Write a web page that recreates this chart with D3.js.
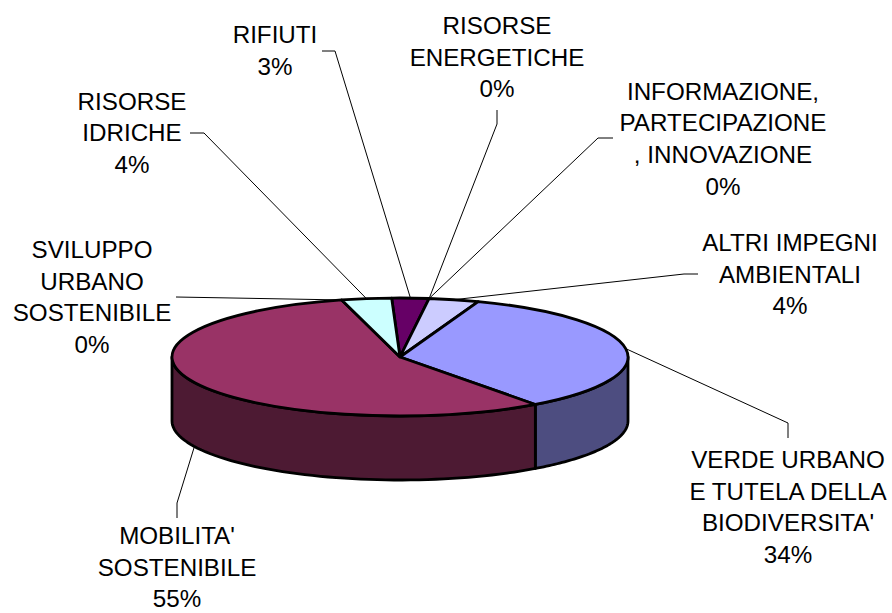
<!DOCTYPE html>
<html>
<head>
<meta charset="utf-8">
<script src="https://cdn.jsdelivr.net/npm/d3@7"></script>
<style>
body{margin:0;background:#fff}
text{font-family:"Liberation Sans",Arial,sans-serif;font-size:24.2px;fill:#000}
</style>
</head>
<body>
<svg id="chart" width="892" height="613"></svg>
<script>
const categories = ["RIFIUTI", "RISORSE ENERGETICHE", "INFORMAZIONE, PARTECIPAZIONE , INNOVAZIONE", "ALTRI IMPEGNI AMBIENTALI",
    "VERDE URBANO E TUTELA DELLA BIODIVERSITA'", "MOBILITA' SOSTENIBILE", "SVILUPPO URBANO SOSTENIBILE", "RISORSE IDRICHE"]
const values = [2.6, 0, 0, 3.5, 34, 55.49, 0, 3.5]
const topColors = ["#660066", "#ccffcc", "#ffffcc", "#ccccff", "#9999ff", "#993366", "#ffffcc", "#ccffff"]
const sideColors = ["#330033", "#668066", "#808066", "#666680", "#4d4d80", "#4d1a33", "#808066", "#668080"]
const labelLines = [["RIFIUTI"], ["RISORSE", "ENERGETICHE"], ["INFORMAZIONE,", "PARTECIPAZIONE", ", INNOVAZIONE"], ["ALTRI IMPEGNI", "AMBIENTALI"],
    ["VERDE URBANO", "E TUTELA DELLA", "BIODIVERSITA'"], ["MOBILITA'", "SOSTENIBILE"], ["SVILUPPO", "URBANO", "SOSTENIBILE"], ["RISORSE", "IDRICHE"]]

// layout: label centre / first baseline, and the elbow of each leader
const labelX = [275, 497, 723, 790, 788, 177, 92, 132]
const labelY = [43, 34, 99.5, 251, 468, 544, 258, 109.5]
const elbows = [[[322, 51], [335, 51]], [[497, 110], [497, 124]], [[613, 138], [598, 138]], [[698, 274], [684, 274]],
    [[788, 438], [788, 423]], [[177, 518], [177, 503]], [[176, 297]], [[190, 133], [204, 133]]]

const cx = 400, cy = 357, rx = 228, ry = 59, depth = 64, lineHeight = 31.7
const startAngle = -2.1 * Math.PI / 180

const svg = d3.select("#chart")
const pie = d3.pie().value(d => d).sort(null).startAngle(startAngle).endAngle(startAngle + 2 * Math.PI)
const slices = pie(values)

const px = a => cx + rx * Math.sin(a)
const py = a => cy - ry * Math.cos(a)

// leader lines
const line = d3.line()
slices.forEach((s, i) => {
    const mid = (s.startAngle + s.endAngle) / 2
    const onFront = Math.cos(mid) < 0
    const end = [px(mid), py(mid) + (onFront ? depth : 0)]
    svg.append("path")
        .attr("d", line(elbows[i].concat([end])))
        .attr("fill", "none")
        .attr("stroke", "#000")
        .attr("stroke-width", 1)
})

// side wall, only the front half of the ellipse can be seen
slices.forEach((s, i) => {
    const a0 = Math.max(s.startAngle, Math.PI / 2)
    const a1 = Math.min(s.endAngle, 3 * Math.PI / 2)
    if (a1 <= a0) return
    const p = d3.path()
    const steps = d3.range(0, 61).map(k => a0 + (a1 - a0) * k / 60)
    steps.forEach((a, k) => k ? p.lineTo(px(a), py(a)) : p.moveTo(px(a), py(a)))
    steps.reverse().forEach(a => p.lineTo(px(a), py(a) + depth))
    p.closePath()
    svg.append("path")
        .attr("d", p.toString())
        .attr("fill", sideColors[i])
        .attr("stroke", "#000")
        .attr("stroke-width", 2.8)
        .attr("stroke-linejoin", "round")
})

// top of the pie
const arc = d3.arc().innerRadius(0).outerRadius(rx)
svg.append("g")
    .attr("transform", `translate(${cx},${cy}) scale(1,${ry / rx})`)
    .selectAll("path")
    .data(slices.filter(s => s.value > 0))
    .join("path")
    .attr("d", arc)
    .attr("fill", d => topColors[d.index])
    .attr("stroke", "#000")
    .attr("stroke-width", 2.8)
    .attr("stroke-linejoin", "round")
    .attr("vector-effect", "non-scaling-stroke")

// labels
categories.forEach((c, i) => {
    const t = svg.append("text").attr("text-anchor", "middle")
    const rows = labelLines[i].concat([Math.round(values[i]) + "%"])
    rows.forEach((r, k) => {
        t.append("tspan")
            .attr("x", labelX[i])
            .attr("y", labelY[i] + k * lineHeight)
            .text(r)
    })
})
</script>
</body>
</html>
